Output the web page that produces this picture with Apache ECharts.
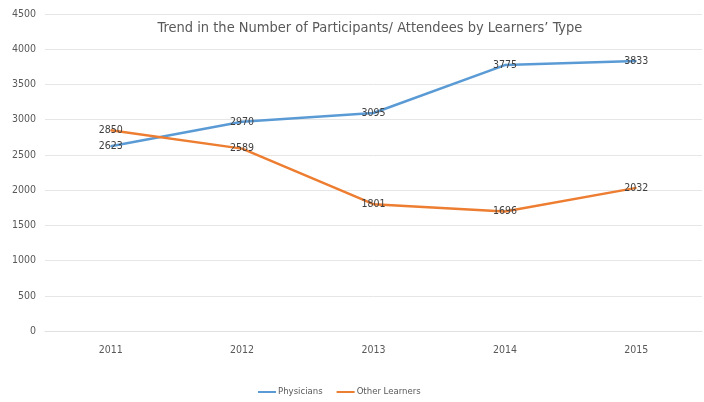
<!DOCTYPE html>
<html><head><meta charset="utf-8">
<script src="https://cdn.jsdelivr.net/npm/echarts@6/dist/echarts.min.js"></script>
<style>html,body{margin:0;padding:0;background:#fff}#c{width:704px;height:402px}</style>
</head><body><div id="c"></div>
<script>
const years = ['2011','2012','2013','2014','2015'];
const physicians = [2623, 2970, 3095, 3775, 3833];
const otherLearners = [2850, 2589, 1801, 1696, 2032];
const yTicks = {min: 0, max: 4500, interval: 500};

const FONT = "'Liberation Sans Narrow','DejaVu Sans Condensed','Liberation Sans',sans-serif";
const chart = echarts.init(document.getElementById('c'));
const lbl = {show: true, position: 'inside', color: '#404040', fontSize: 10.5, fontFamily: FONT};
chart.setOption({
  animation: false,
  title: {text: 'Trend in the Number of Participants/ Attendees by Learners\u2019 Type',
    left: 365, textAlign: 'center', top: 16,
    textStyle: {fontFamily: FONT, fontSize: 14.5, fontWeight: 'normal', color: '#595959'}},
  grid: {left: 45, right: 2, top: 14, bottom: 71},
  legend: {top: 387, left: 258, icon: 'rect', itemWidth: 18, itemHeight: 2, itemGap: 14, itemStyle: {borderWidth: 0},
    padding: 0, textStyle: {fontFamily: FONT, fontSize: 9.5, color: '#595959', padding: [0, 0, 0, -3]}},
  xAxis: {type: 'category', data: years, boundaryGap: true,
    axisLine: {lineStyle: {color: '#e0e0e0'}}, axisTick: {show: false},
    axisLabel: {fontFamily: FONT, fontSize: 10.5, color: '#595959', margin: 14}},
  yAxis: {type: 'value', min: yTicks.min, max: yTicks.max, interval: yTicks.interval,
    axisLine: {show: false}, axisTick: {show: false},
    splitLine: {lineStyle: {color: '#e6e6e6'}},
    axisLabel: {fontFamily: FONT, fontSize: 10.5, color: '#595959', margin: 9,
      formatter: v => String(v)}},
  series: [
    {name: 'Physicians', type: 'line', data: physicians, symbol: 'circle', symbolSize: 1,
      itemStyle: {color: '#5B9BD5'}, lineStyle: {width: 2.5, color: '#5B9BD5'}, label: lbl},
    {name: 'Other Learners', type: 'line', data: otherLearners, symbol: 'circle', symbolSize: 1,
      itemStyle: {color: '#ED7D31'}, lineStyle: {width: 2.5, color: '#ED7D31'}, label: lbl}
  ]
});
</script></body></html>
